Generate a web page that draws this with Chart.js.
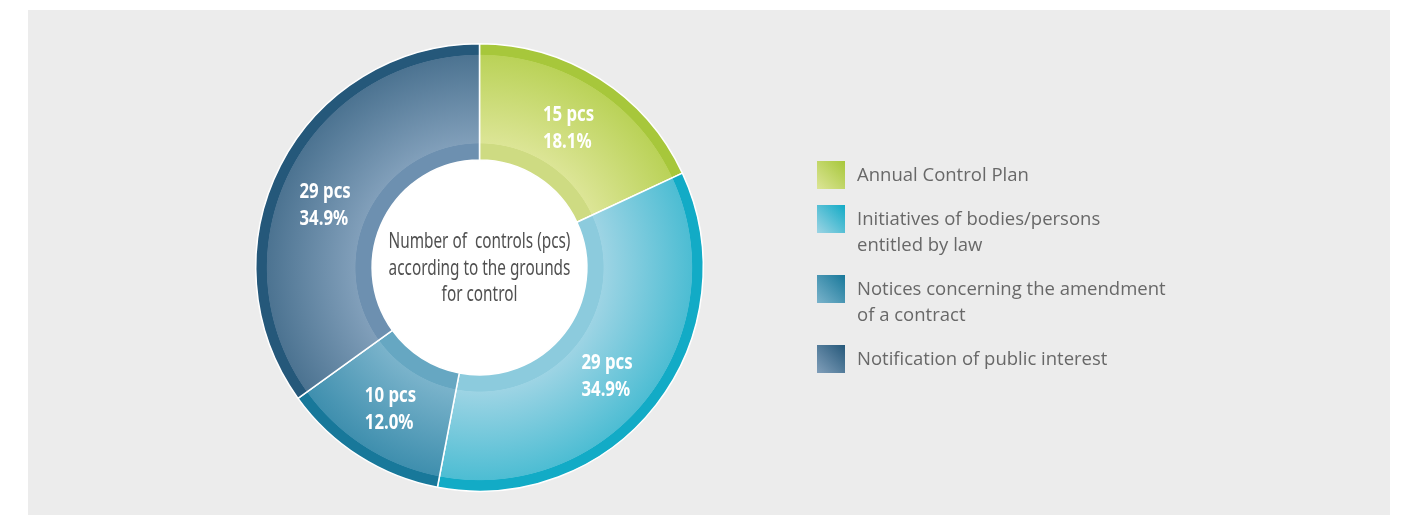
<!DOCTYPE html>
<html>
<head>
<meta charset="utf-8">
<script src="https://cdn.jsdelivr.net/npm/chart.js@4.4.1/dist/chart.umd.min.js"></script>
<style>
  html, body { margin: 0; padding: 0; background: #fff; }
  #wrap { position: relative; width: 1404px; height: 515px; }
</style>
</head>
<body>
<div id="wrap"><canvas id="grafico"></canvas></div>
<script>
// datos
const categorias = [
  ['Annual Control Plan'],
  ['Initiatives of bodies/persons', 'entitled by law'],
  ['Notices concerning the amendment', 'of a contract'],
  ['Notification of public interest']
];
const cantidades = [15, 29, 10, 29];
const etiquetasPct = ['18.1%', '34.9%', '12.0%', '34.9%'];
const tituloCentro = ['Number of  controls (pcs)', 'according to the grounds', 'for control'];

// colores: banda interior, cuerpo claro, cuerpo oscuro, borde exterior
const colores = [
  { banda: '#cedb82', claro: '#dce596', oscuro: '#bad258', borde: '#a7c73b' },
  { banda: '#8ccbdd', claro: '#9dd4e4', oscuro: '#4dbdd3', borde: '#12abc6' },
  { banda: '#66a7c2', claro: '#7ab3cb', oscuro: '#3f8fae', borde: '#18789a' },
  { banda: '#6d90b0', claro: '#819fba', oscuro: '#4c7391', borde: '#25587a' }
];
// pequeno ajuste visual de las etiquetas (px)
const ajusteEtiqueta = [[0, 0], [-3, 7], [0, 2], [-7, 13]];

const fuente = "'Noto Sans', 'Open Sans', sans-serif";

function radios(chart) {
  const a = chart.chartArea;
  const rOut = Math.min(a.right - a.left, a.bottom - a.top) / 2;
  return { cx: (a.left + a.right) / 2, cy: (a.top + a.bottom) / 2, rOut, rIn: rOut * 0.48 };
}

// simula una fuente condensada escalando en horizontal
function textoEstrecho(ctx, t, x, y, k) {
  ctx.save();
  ctx.translate(x, y);
  ctx.scale(k, 1);
  ctx.fillText(t, 0, 0);
  ctx.restore();
}

function rellenoSegmento(c) {
  const col = colores[c.dataIndex];
  const chart = c.chart;
  if (!chart.chartArea) return col.oscuro;
  const { cx, cy, rOut, rIn } = radios(chart);
  const g = chart.ctx.createRadialGradient(cx, cy, rIn, cx, cy, rOut);
  const bandaFin = 16 / (rOut - rIn);
  const bordeIni = 1 - 12 / (rOut - rIn);
  g.addColorStop(0, col.banda);
  g.addColorStop(bandaFin, col.banda);
  g.addColorStop(bandaFin + 0.005, col.claro);
  g.addColorStop(bordeIni, col.oscuro);
  g.addColorStop(bordeIni + 0.005, col.borde);
  g.addColorStop(1, col.borde);
  return g;
}

const fondoPanel = {
  id: 'fondoPanel',
  beforeDraw(chart) {
    const ctx = chart.ctx;
    ctx.save();
    ctx.fillStyle = '#ececec';
    ctx.fillRect(28, 10, 1362, 505);
    ctx.restore();
  }
};

const textosGrafico = {
  id: 'textosGrafico',
  afterDatasetsDraw(chart) {
    const ctx = chart.ctx;
    const { cx, cy, rIn } = radios(chart);

    // hueco blanco y titulo
    ctx.save();
    ctx.beginPath();
    ctx.arc(cx, cy, rIn - 0.5, 0, Math.PI * 2);
    ctx.fillStyle = '#fff';
    ctx.fill();
    ctx.fillStyle = '#505050';
    ctx.font = '21px ' + fuente;
    ctx.textAlign = 'center';
    ctx.textBaseline = 'middle';
    tituloCentro.forEach((t, i) => textoEstrecho(ctx, t, cx, cy - 25 + i * 26.5, 0.73));

    // etiquetas de cada segmento
    ctx.fillStyle = '#fff';
    ctx.font = 'bold 21px ' + fuente;
    ctx.textAlign = 'left';
    chart.getDatasetMeta(0).data.forEach((arc, i) => {
      const p = arc.tooltipPosition();
      const [dx, dy] = ajusteEtiqueta[i];
      const lineas = [cantidades[i] + ' pcs', etiquetasPct[i]];
      const ancho = Math.max(...lineas.map(l => ctx.measureText(l).width)) * 0.8;
      lineas.forEach((l, j) => textoEstrecho(ctx, l, p.x + dx - ancho / 2, p.y + dy - 13 + j * 27, 0.8));
    });

    // leyenda
    let y = 161;
    ctx.font = "18.5px 'Open Sans', 'Noto Sans', sans-serif";
    categorias.forEach((lineas, i) => {
      const col = colores[i];
      const g = ctx.createLinearGradient(817, y + 28, 845, y);
      g.addColorStop(0, col.claro);
      g.addColorStop(1, col.borde);
      ctx.fillStyle = g;
      ctx.fillRect(817, y, 28, 28);
      ctx.fillStyle = '#686868';
      lineas.forEach((l, j) => ctx.fillText(l, 857, y + 15 + j * 26));
      y += 44 + (lineas.length - 1) * 26;
    });
    ctx.restore();
  }
};

new Chart(document.getElementById('grafico'), {
  type: 'doughnut',
  data: {
    labels: categorias.map(c => c.join(' ')),
    datasets: [{
      data: cantidades,
      backgroundColor: rellenoSegmento,
      borderColor: '#fff',
      borderWidth: 1.5
    }]
  },
  options: {
    responsive: true,
    maintainAspectRatio: false,
    animation: false,
    cutout: '48%',
    layout: { padding: { left: 255, right: 700, top: 43, bottom: 23 } },
    plugins: { legend: { display: false }, tooltip: { enabled: false } }
  },
  plugins: [fondoPanel, textosGrafico]
});
</script>
</body>
</html>
